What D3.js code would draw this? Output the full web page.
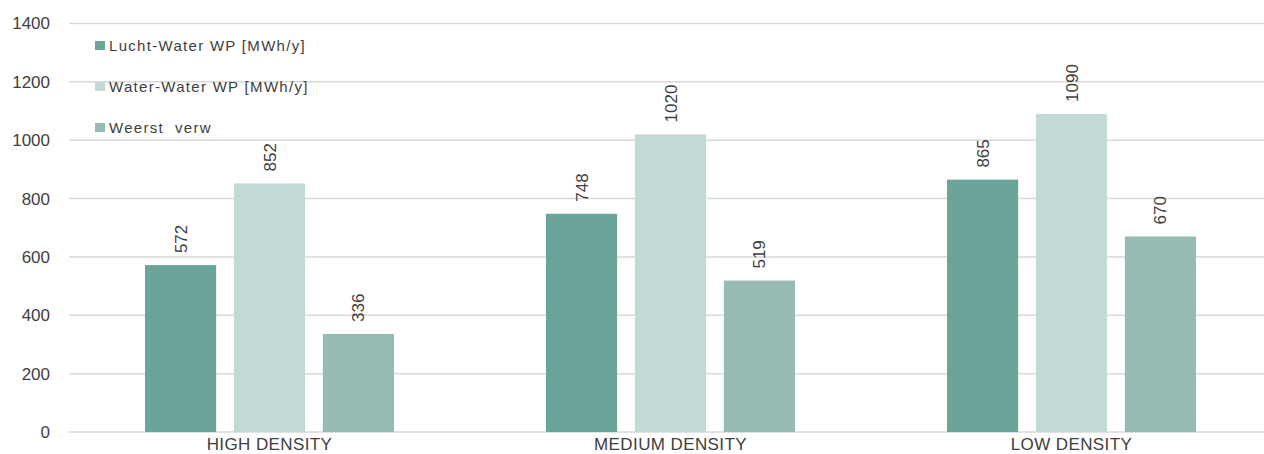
<!DOCTYPE html>
<html>
<head>
<meta charset="utf-8">
<script src="https://cdn.jsdelivr.net/npm/d3@7"></script>
<style>
  html, body { margin: 0; padding: 0; background: #fff; }
  svg { display: block; font-family: "Liberation Sans", Arial, sans-serif; }
</style>
</head>
<body>
<svg id="chart" width="1264" height="454"></svg>
<script>
// Heat demand per density type
const categories = ["HIGH DENSITY", "MEDIUM DENSITY", "LOW DENSITY"];
const seriesNames = ["Lucht-Water WP [MWh/y]", "Water-Water WP [MWh/y]", "Weerst  verw"];
const luchtWater = [572, 748, 865];
const waterWater = [852, 1020, 1090];
const weerstVerw = [336, 519, 670];
const yTicks = [0, 200, 400, 600, 800, 1000, 1200, 1400];

const seriesValues = [luchtWater, waterWater, weerstVerw];
const colors = ["#6ba499", "#c1dad6", "#95bbb3"];
const textColor = "#404040";

const svg = d3.select("#chart");
const W = 1264;

const x0 = d3.scaleBand().domain(categories).range([69, 1272]).paddingInner(0).paddingOuter(0);
const x1 = d3.scaleBand().domain(d3.range(seriesNames.length))
  .range([76, x0.bandwidth() - 76]).paddingInner(0.2).paddingOuter(0);
const y = d3.scaleLinear().domain([0, 1400]).range([432, 23.5]);

// gridlines
svg.append("g").selectAll("line").data(yTicks).join("line")
  .attr("x1", 69).attr("x2", W)
  .attr("y1", d => y(d)).attr("y2", d => y(d))
  .attr("stroke", "#d9d9d9").attr("stroke-width", 1.5);

// y axis labels
const yAxis = svg.append("g").attr("transform", "translate(69,0)")
  .call(d3.axisLeft(y).tickValues(yTicks).tickSize(0).tickPadding(19).tickFormat(d3.format("d")));
yAxis.select(".domain").remove();
yAxis.selectAll("text").attr("fill", textColor).style("font-size", "17px")
  .style("font-family", "'Liberation Sans', Arial, sans-serif");

// x axis labels
const xAxis = svg.append("g").attr("transform", "translate(0,432)")
  .call(d3.axisBottom(x0).tickSize(0).tickPadding(6));
xAxis.select(".domain").remove();
xAxis.selectAll("text").attr("fill", textColor).style("font-size", "17px")
  .style("letter-spacing", "0.4px")
  .style("font-family", "'Liberation Sans', Arial, sans-serif");

// bars
const rows = categories.map((c, i) => ({ cat: c, vals: seriesValues.map(s => s[i]) }));
const groups = svg.append("g").selectAll("g").data(rows).join("g")
  .attr("transform", d => `translate(${x0(d.cat)},0)`);

groups.selectAll("rect").data(d => d.vals.map((v, k) => ({ v, k }))).join("rect")
  .attr("x", d => x1(d.k))
  .attr("width", x1.bandwidth())
  .attr("y", d => y(d.v))
  .attr("height", d => y(0) - y(d.v))
  .attr("fill", d => colors[d.k]);

// value labels (rotated)
groups.selectAll("text.val").data(d => d.vals.map((v, k) => ({ v, k }))).join("text")
  .attr("class", "val")
  .attr("transform", d => `translate(${x1(d.k) + x1.bandwidth() / 2 + 6},${y(d.v) - 12}) rotate(-90)`)
  .attr("fill", textColor)
  .style("font-size", "17px")
  .text(d => d.v);

// legend
const legend = svg.append("g").selectAll("g").data(seriesNames).join("g")
  .attr("transform", (d, i) => `translate(95,${45 + i * 41})`);
legend.append("rect").attr("x", 0).attr("y", -4).attr("width", 10).attr("height", 9)
  .attr("fill", (d, i) => colors[i]);
legend.append("text").attr("x", 14).attr("y", 5.5)
  .attr("fill", textColor).style("font-size", "15px").style("letter-spacing", "1.3px")
  .style("white-space", "pre")
  .text(d => d);
</script>
</body>
</html>
